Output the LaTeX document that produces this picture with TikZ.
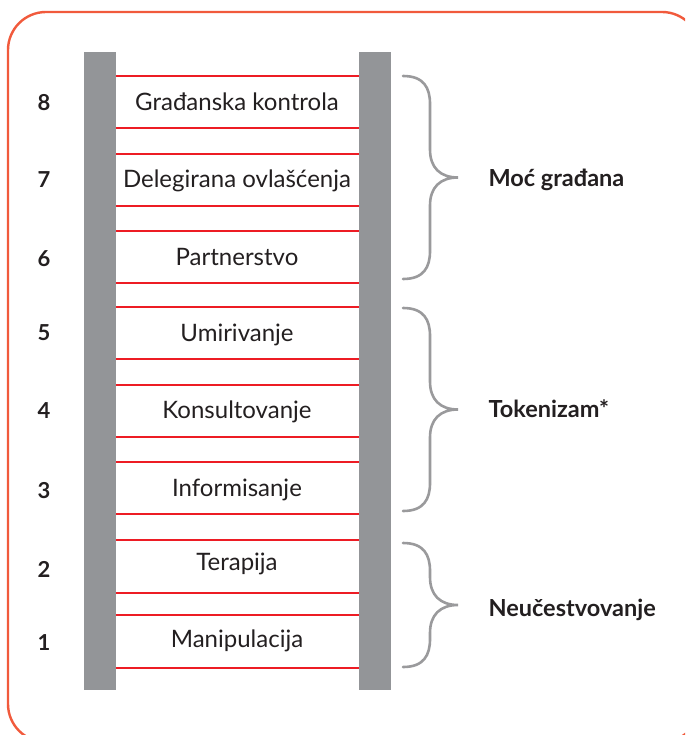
\documentclass[tikz,border=0pt]{standalone}
\usepackage{fontspec}
\setmainfont{Lato}
\usetikzlibrary{positioning}

\definecolor{framered}{HTML}{F15A3C}
\definecolor{rungred}{HTML}{ED1C24}
\definecolor{railgray}{HTML}{939598}
\definecolor{bracegray}{HTML}{9A9A9C}
\definecolor{ink}{HTML}{231F20}

\tikzset{
  rail/.style={fill=railgray, draw=none, minimum width=32pt, minimum height=638pt, inner sep=0pt},
  rung/.style={rungred, line width=1.4pt},
  steplabel/.style={anchor=base, text=ink, font=\fontsize{24}{28}\selectfont},
  stepnum/.style={anchor=base, text=ink, font=\fontsize{22}{26}\selectfont\bfseries},
  grouplabel/.style={text=ink, font=\fontsize{23.5}{28}\selectfont\bfseries},
  curly/.style={bracegray, line width=2.6pt, line cap=round}
}

% brace from y=#1 to y=#2, tip named #3
\newcommand{\curlybr}[3]{
  \draw[curly] (403,#1) .. controls (424,#1) and (430,#1+12) .. (430,#1+28)
    -- (430,{(#1+#2)/2-28}) .. controls (430,{(#1+#2)/2-10}) and (440,{(#1+#2)/2}) .. (458,{(#1+#2)/2})
    .. controls (440,{(#1+#2)/2}) and (430,{(#1+#2)/2+10}) .. (430,{(#1+#2)/2+28})
    -- (430,#2-28) .. controls (430,#2-12) and (424,#2) .. (403,#2);
  \coordinate (#3) at (458,{(#1+#2)/2});
}

\begin{document}
\begin{tikzpicture}[x=1pt, y=-1pt]
\useasboundingbox (0,0) rectangle (685,735);

\begin{scope}
\clip (0,0) rectangle (685,735);
\draw[framered, line width=2.4pt, rounded corners=38pt] (8,12) rectangle (700,742);
\end{scope}

% ladder
\node[rail] (lrail) at (100,371) {};
\node[rail] (rrail) at (375,371) {};

\foreach \y in {76,128,154,206,231,283,307,359,385,437,462,514,540,593,615,668}
  \draw[rung] (lrail.east |- 0,\y) -- (rrail.west |- 0,\y);

% steps
\node[steplabel] (s8) at (237,111) {Građanska kontrola};
\node[steplabel] (s7) at (237,188) {Delegirana ovlašćenja};
\node[steplabel] (s6) at (237,265) {Partnerstvo};
\node[steplabel] (s5) at (237,341) {Umirivanje};
\node[steplabel] (s4) at (237,418) {Konsultovanje};
\node[steplabel] (s3) at (237,496) {Informisanje};
\node[steplabel] (s2) at (237,570) {Terapija};
\node[steplabel] (s1) at (237,647) {Manipulacija};

\node[stepnum] (n8) at (44,111) {8};
\node[stepnum] (n7) at (44,188) {7};
\node[stepnum] (n6) at (44,266) {6};
\node[stepnum] (n5) at (44,340) {5};
\node[stepnum] (n4) at (44,418) {4};
\node[stepnum] (n3) at (44,498) {3};
\node[stepnum] (n2) at (44,577) {2};
\node[stepnum] (n1) at (44,650) {1};

% groups
\curlybr{76}{279}{tipa}
\curlybr{308}{511}{tipb}
\curlybr{543}{667}{tipc}

\node[grouplabel, base right=27pt of tipa, yshift=-9pt] (moc) {Moć građana};
\node[grouplabel, base right=27pt of tipb, yshift=-8pt] (token) {Tokenizam*};
\node[grouplabel, base right=27pt of tipc, yshift=-11pt] (neuc) {Neučestvovanje};
\end{tikzpicture}
\end{document}
